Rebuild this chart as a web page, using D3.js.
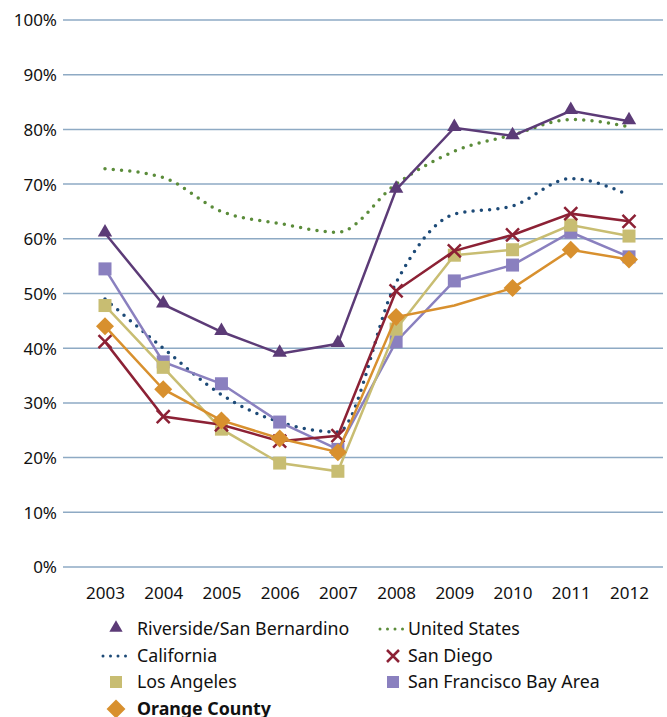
<!DOCTYPE html>
<html>
<head>
<meta charset="utf-8">
<script src="https://cdn.jsdelivr.net/npm/d3@7"></script>
<style>
body { margin: 0; background: #fff; }
text { font-family: "Noto Sans", "Open Sans", sans-serif; }
</style>
</head>
<body>
<div id="chart"></div>
<script>
// values, in percent
var years = ['2003','2004','2005','2006','2007','2008','2009','2010','2011','2012'];
var yTicks = [0,10,20,30,40,50,60,70,80,90,100];

var riverside  = [61.0, 48.0, 43.0, 39.0, 40.8, 69.0, 80.3, 78.8, 83.4, 81.5];
var unitedStates = [72.8, 71.2, 65.0, 62.8, 61.2, 70.0, 76.0, 79.0, 81.8, 80.5];
var california = [49.0, 40.0, 31.5, 26.5, 24.7, 52.0, 64.5, 66.0, 71.0, 68.0];
var sanDiego   = [41.2, 27.5, 26.0, 23.0, 24.0, 50.5, 57.8, 60.7, 64.6, 63.2];
var losAngeles = [47.8, 36.5, 25.2, 19.0, 17.5, 43.5, 57.0, 58.0, 62.5, 60.5];
var sanFran    = [54.5, 37.5, 33.5, 26.5, 21.5, 41.2, 52.3, 55.2, 61.2, 56.7];
var orange     = [44.0, 32.5, 26.8, 23.5, 21.0, 45.7, 47.8, 51.0, 58.0, 56.2];
// the original has no diamond drawn on this year
var orangeNoMarker = ['2009'];

var width = 667, height = 717;
var svg = d3.select("#chart").append("svg")
	.attr("width", width)
	.attr("height", height);

var x = d3.scalePoint().domain(years).range([105, 629]);
var y = d3.scaleLinear().domain([0, 100]).range([567, 20]);

// gridlines
svg.append("g").selectAll("line")
	.data(yTicks)
	.enter().append("line")
	.attr("x1", 63).attr("x2", 663)
	.attr("y1", function(d){ return y(d); })
	.attr("y2", function(d){ return y(d); })
	.style("stroke", "#8eaac4")
	.style("stroke-width", "1.5px");

var yAxis = svg.append("g")
	.attr("transform", "translate(57,0)")
	.call(d3.axisLeft(y).tickValues(yTicks).tickSize(0).tickFormat(function(d){ return d + '%'; }));
yAxis.select(".domain").remove();
yAxis.selectAll("text").style("font-size", "17px").style("fill", "#111").attr("dy", "0.35em").attr("x", 0);

var xAxis = svg.append("g")
	.attr("transform", "translate(0,587)")
	.call(d3.axisBottom(x).tickSize(0));
xAxis.select(".domain").remove();
xAxis.selectAll("text").style("font-size", "17px").style("fill", "#111").attr("dy", "0.71em").attr("y", 0);

var series = [
	{ name: 'United States', values: unitedStates, color: '#5b8c3a', dotted: true, marker: null },
	{ name: 'California', values: california, color: '#1d4a77', dotted: true, marker: null },
	{ name: 'Riverside/San Bernardino', values: riverside, color: '#5c3b77', marker: 'tri' },
	{ name: 'San Francisco Bay Area', values: sanFran, color: '#8a80bf', marker: 'square' },
	{ name: 'Los Angeles', values: losAngeles, color: '#c8bd72', marker: 'square' },
	{ name: 'San Diego', values: sanDiego, color: '#8c2135', marker: 'x' },
	{ name: 'Orange County', values: orange, color: '#d8902e', marker: 'diamond', skip: orangeNoMarker }
];

function drawMarker(g, type, cx, cy, color, s) {
	if (type == 'tri') {
		g.append("path")
			.attr("d", d3.symbol().type(d3.symbolTriangle).size(90 * s)())
			.attr("transform", "translate(" + cx + "," + (cy - 1) + ")")
			.attr("fill", color);
	} else if (type == 'square') {
		var w = 13 * Math.sqrt(s);
		g.append("rect")
			.attr("x", cx - w/2).attr("y", cy - w/2)
			.attr("width", w).attr("height", w)
			.attr("fill", color);
	} else if (type == 'diamond') {
		var r = 9 * Math.sqrt(s);
		g.append("path")
			.attr("d", "M" + cx + "," + (cy - r) + "L" + (cx + r) + "," + cy + "L" + cx + "," + (cy + r) + "L" + (cx - r) + "," + cy + "Z")
			.attr("fill", color);
	} else if (type == 'x') {
		var h = 6.5 * Math.sqrt(s);
		g.append("path")
			.attr("d", "M" + (cx - h) + "," + (cy - h) + "L" + (cx + h) + "," + (cy + h) + "M" + (cx + h) + "," + (cy - h) + "L" + (cx - h) + "," + (cy + h))
			.style("stroke", color)
			.style("stroke-width", "2.5px")
			.attr("fill", "none");
	}
}

for (var i = 0; i < series.length; i++) {
	var s = series[i];
	var line = d3.line()
		.x(function(d, j){ return x(years[j]); })
		.y(function(d){ return y(d); })
		.curve(s.dotted ? d3.curveMonotoneX : d3.curveLinear);
	var p = svg.append("path")
		.attr("d", line(s.values))
		.attr("fill", "none")
		.style("stroke", s.color)
		.style("stroke-width", s.dotted ? "3.5px" : "2.5px");
	if (s.dotted) {
		p.style("stroke-dasharray", "0,8.3").style("stroke-linecap", "round");
	}
	if (s.marker) {
		var g = svg.append("g");
		for (var j = 0; j < s.values.length; j++) {
			if (s.skip && s.skip.indexOf(years[j]) >= 0) continue;
			drawMarker(g, s.marker, x(years[j]), y(s.values[j]), s.color, 1);
		}
	}
}

// legend
var legendRows = [
	{ name: 'Riverside/San Bernardino', col: 0, row: 0 },
	{ name: 'United States', col: 1, row: 0 },
	{ name: 'California', col: 0, row: 1 },
	{ name: 'San Diego', col: 1, row: 1 },
	{ name: 'Los Angeles', col: 0, row: 2 },
	{ name: 'San Francisco Bay Area', col: 1, row: 2 },
	{ name: 'Orange County', col: 0, row: 3 }
];
var colX = [116, 393];
var textX = [137, 408];
var rowY = [629, 656, 682, 709];

legendRows.forEach(function(it) {
	var s = series.filter(function(d){ return d.name == it.name; })[0];
	var cx = colX[it.col], cy = rowY[it.row];
	var lg = svg.append("g");
	if (s.dotted) {
		lg.append("line")
			.attr("x1", cx - 13).attr("x2", cx + 10)
			.attr("y1", cy).attr("y2", cy)
			.style("stroke", s.color)
			.style("stroke-width", "3px")
			.style("stroke-dasharray", "0,7.5")
			.style("stroke-linecap", "round");
	} else {
		drawMarker(lg, s.marker, cx, cy, s.color, s.marker == 'diamond' ? 1.1 : 0.85);
	}
	lg.append("text")
		.attr("x", textX[it.col])
		.attr("y", cy)
		.attr("dy", "0.35em")
		.style("font-size", "17.8px")
		.style("font-weight", it.name == 'Orange County' ? "bold" : "normal")
		.style("fill", "#111")
		.text(it.name);
});
</script>
</body>
</html>
